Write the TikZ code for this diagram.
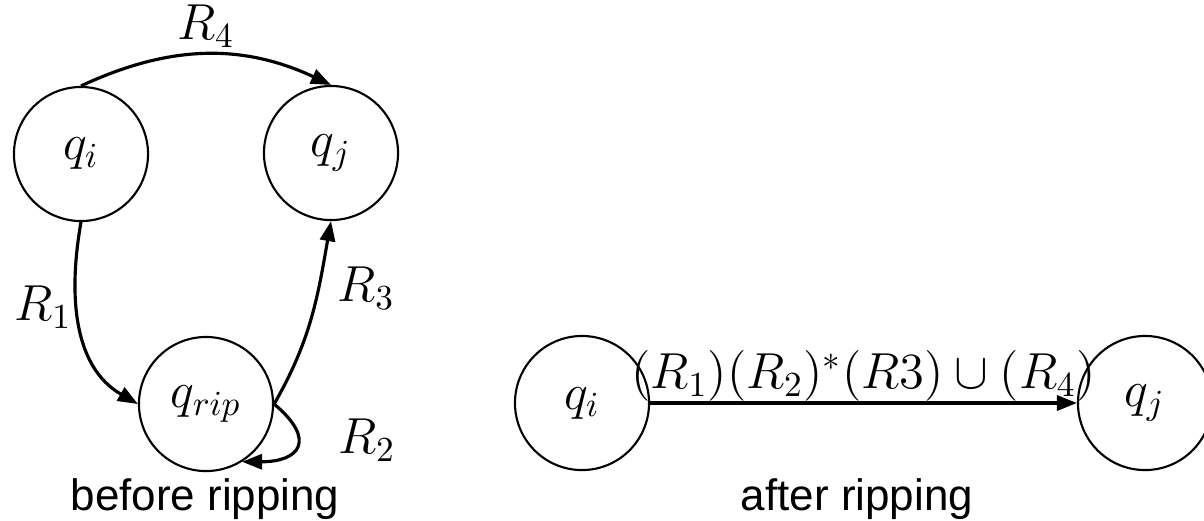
\documentclass[tikz,border=0pt]{standalone}
\usepackage{fontspec}
\setsansfont{Liberation Sans}
\usetikzlibrary{arrows.meta,positioning}

\begin{document}
\begin{tikzpicture}[x=0.01cm,y=-0.01cm,>={Triangle[length=5.7pt,width=4.3pt]},
  font=\fontsize{14.2}{17}\selectfont,
  state/.style={draw,circle,line width=0.6pt,minimum size=1.34cm,inner sep=0pt},
  edge/.style={->,line width=0.9pt},
  lbl/.style={inner sep=0pt},
  caption/.style={anchor=base,font=\fontsize{12.5}{15}\sffamily}]
\useasboundingbox (0,0) rectangle (1204,520);
% before ripping
\node[state] (qi) at (81,154) {$q_i$};
\node[state] (qj) at (331,153) {$q_j$};
\node[state] (qrip) at (206,404) {$q_{rip}$};
\draw[edge] (qi.north) to[out=25,in=155] node[lbl,above=1.5pt] {$R_4$} (qj.north);
\draw[edge] (qi.south) to[out=-100,in=150] node[lbl,pos=0.4,left=1pt] {$R_1$} (qrip.west);
\draw[edge] (qrip.east) to[out=60,in=-100] node[lbl,pos=0.66,right=5pt] {$R_3$} (qj.south);
\draw[edge] (qrip.east) to[out=-40,in=0,looseness=2.2] node[lbl,pos=0.4,right=11pt] {$R_2$} (qrip.-58);
\node[caption] (before) at (205,510) {before ripping};
% after ripping
\node[state] (qi2) at (582,403) {$q_i$};
\node[state] (qj2) at (1145,403) {$q_j$};
\draw[edge] (qi2) -- node[lbl,above] {$(R_1)(R_2)^*(R3)\cup(R_4)$} (qj2);
\node[caption] (after) at (857,510) {after ripping};
\end{tikzpicture}
\end{document}
